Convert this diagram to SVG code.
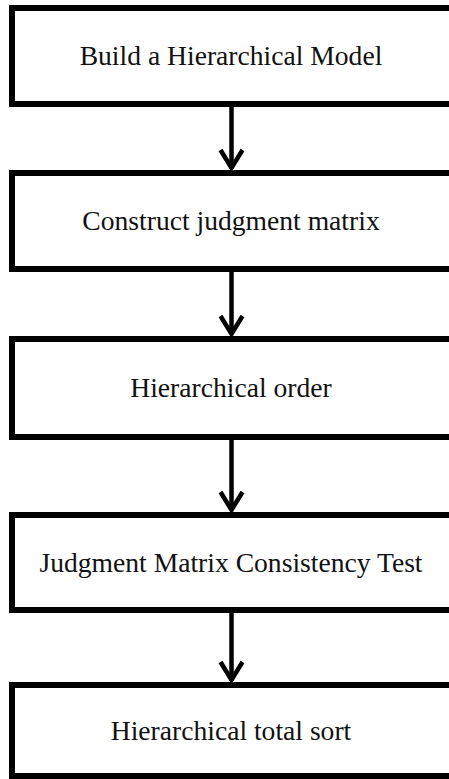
<svg xmlns="http://www.w3.org/2000/svg" width="449" height="779" viewBox="0 0 449 779">
  <style>
    .box { fill: #ffffff; stroke: #000000; stroke-width: 6; }
    .label { font-family: "Liberation Serif", "Times New Roman", serif; font-size: 27.6px; fill: #111111; text-anchor: middle; }
    .conn { fill: none; stroke: #000000; stroke-width: 4.5; }
  </style>
  <defs>
    <marker id="chev" markerUnits="userSpaceOnUse" markerWidth="30" markerHeight="30" viewBox="-22 -15 26 30" refX="0" refY="0" orient="auto">
      <path d="M-18,-11 L0,0 L-18,11" fill="none" stroke="#000" stroke-width="4.5" stroke-linejoin="miter"/>
    </marker>
  </defs>
  <rect x="0" y="0" width="449" height="779" fill="#ffffff"/>
  <g id="n1">
    <rect class="box" x="12" y="8" width="440" height="96"/>
    <text class="label" x="231" y="65">Build a Hierarchical Model</text>
  </g>
  <g id="n2">
    <rect class="box" x="12" y="173" width="440" height="96"/>
    <text class="label" x="231" y="230">Construct judgment matrix</text>
  </g>
  <g id="n3">
    <rect class="box" x="12" y="339" width="440" height="98"/>
    <text class="label" x="231" y="397">Hierarchical order</text>
  </g>
  <g id="n4">
    <rect class="box" x="12" y="515" width="440" height="95"/>
    <text class="label" x="231" y="572">Judgment Matrix Consistency Test</text>
  </g>
  <g id="n5">
    <rect class="box" x="12" y="685" width="440" height="91"/>
    <text class="label" x="231" y="740">Hierarchical total sort</text>
  </g>
  <g id="connectors">
    <path class="conn" d="M231.5,107 V168" marker-end="url(#chev)"/>
    <path class="conn" d="M231.5,272 V334" marker-end="url(#chev)"/>
    <path class="conn" d="M231.5,440 V510" marker-end="url(#chev)"/>
    <path class="conn" d="M231.5,613 V680" marker-end="url(#chev)"/>
  </g>
</svg>
